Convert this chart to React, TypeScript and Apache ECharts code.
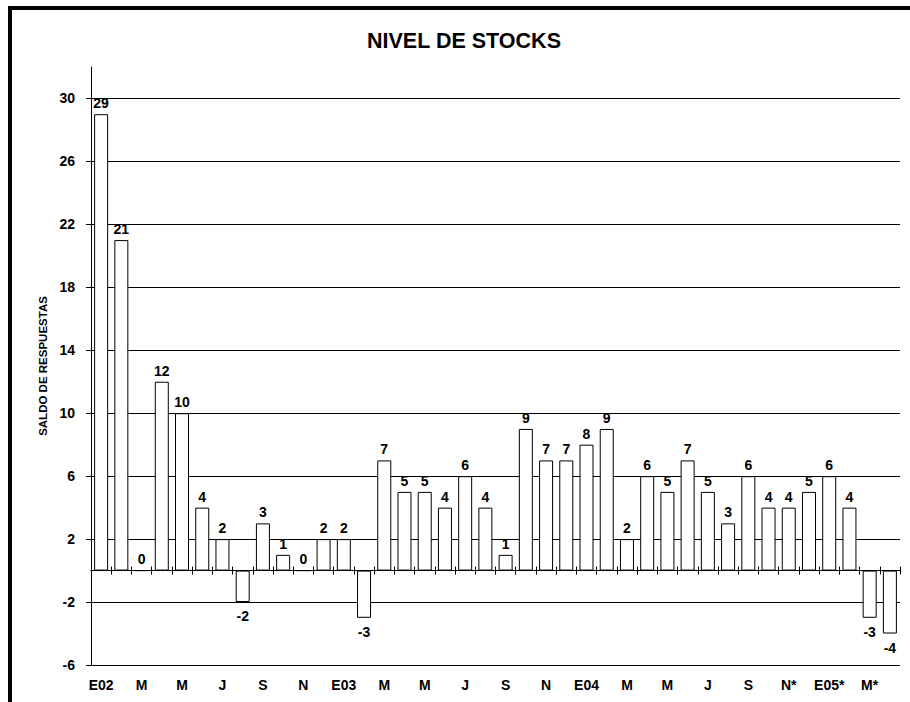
import React, { useEffect, useRef } from "react";
import * as echarts from "echarts";

const FONT = "'Liberation Sans', Arial, Helvetica, sans-serif";

const chartTitle = "NIVEL DE STOCKS";
const yAxisName = "SALDO DE RESPUESTAS";

const categories = [
  "E02", "F", "M", "A", "M", "J", "J", "A", "S", "O", "N", "D",
  "E03", "F", "M", "A", "M", "J", "J", "A", "S", "O", "N", "D",
  "E04", "F", "M", "A", "M", "J", "J", "A", "S", "O", "N*", "D*",
  "E05*", "F*", "M*", "A*",
];

const stockValues = [
  29, 21, 0, 12, 10, 4, 2, -2, 3, 1, 0, 2,
  2, -3, 7, 5, 5, 4, 6, 4, 1, 9, 7, 7,
  8, 9, 2, 6, 5, 7, 5, 3, 6, 4, 4, 5,
  6, 4, -3, -4,
];

const yTicks = [-6, -2, 2, 6, 10, 14, 18, 22, 26, 30];

export default function App() {
  const ref = useRef<HTMLDivElement>(null);

  useEffect(() => {
    if (!ref.current) return;
    const chart = echarts.init(ref.current, null, { renderer: "svg" });

    const labelStyle = {
      fontFamily: FONT,
      fontSize: 14,
      fontWeight: "bold" as const,
      color: "#000",
    };

    const zeroAxisBase = {
      type: "category" as const,
      data: categories,
      axisLine: {
        show: true,
        onZero: true,
        onZeroAxisIndex: 0,
        lineStyle: { color: "#000", width: 1 },
      },
      axisTick: {
        show: true,
        interval: 0,
        length: 4,
        lineStyle: { color: "#000", width: 1 },
      },
      axisLabel: { show: false },
      splitLine: { show: false },
    };

    chart.setOption({
      animation: false,
      backgroundColor: "#fff",
      textStyle: { fontFamily: FONT },
      grid: { left: 91, right: 10, top: 67, bottom: 37 },
      graphic: [
        {
          type: "rect",
          silent: true,
          z: 100,
          shape: { x: 10, y: 8, width: 1000, height: 1000 },
          style: { fill: "none", stroke: "#000", lineWidth: 4 },
        },
        {
          type: "text",
          silent: true,
          x: 464,
          y: 41,
          style: {
            text: chartTitle,
            fontFamily: FONT,
            fontSize: 21.5,
            fontWeight: "bold",
            fill: "#000",
            align: "center",
            verticalAlign: "middle",
          },
        },
      ],
      xAxis: [
        {
          type: "category",
          data: categories,
          position: "bottom",
          axisLine: { show: false, onZero: false },
          axisTick: { show: false },
          axisLabel: { ...labelStyle, interval: 1, margin: 13 },
          splitLine: { show: false },
        },
        { ...zeroAxisBase, position: "bottom" },
        { ...zeroAxisBase, position: "top" },
      ],
      yAxis: {
        type: "value",
        min: -6,
        max: 32,
        interval: 4,
        name: yAxisName,
        nameLocation: "middle",
        nameRotate: 90,
        nameGap: 40,
        nameTextStyle: {
          fontFamily: FONT,
          fontSize: 11.5,
          fontWeight: "bold",
          color: "#000",
        },
        axisLine: { show: true, lineStyle: { color: "#000", width: 1 } },
        axisTick: {
          show: true,
          length: 5,
          customValues: yTicks,
          lineStyle: { color: "#000", width: 1 },
        },
        axisLabel: { ...labelStyle, customValues: yTicks, margin: 16 },
        splitLine: {
          show: true,
          lineStyle: { color: "#000", width: 1 },
        },
      },
      series: [
        {
          type: "bar",
          xAxisIndex: 0,
          yAxisIndex: 0,
          barWidth: 14,
          data: stockValues.map((v) => ({
            value: v,
            label: {
              position: v < 0 ? "bottom" : "top",
              distance: v < 0 ? 7 : 4,
            },
          })),
          itemStyle: { color: "#fff", borderColor: "#000", borderWidth: 1 },
          label: { show: true, ...labelStyle },
        },
      ],
    });

    return () => chart.dispose();
  }, []);

  return (
    <div
      ref={ref}
      style={{
        position: "absolute",
        left: 0,
        top: 0,
        width: 910,
        height: 702,
        background: "#fff",
      }}
    />
  );
}
